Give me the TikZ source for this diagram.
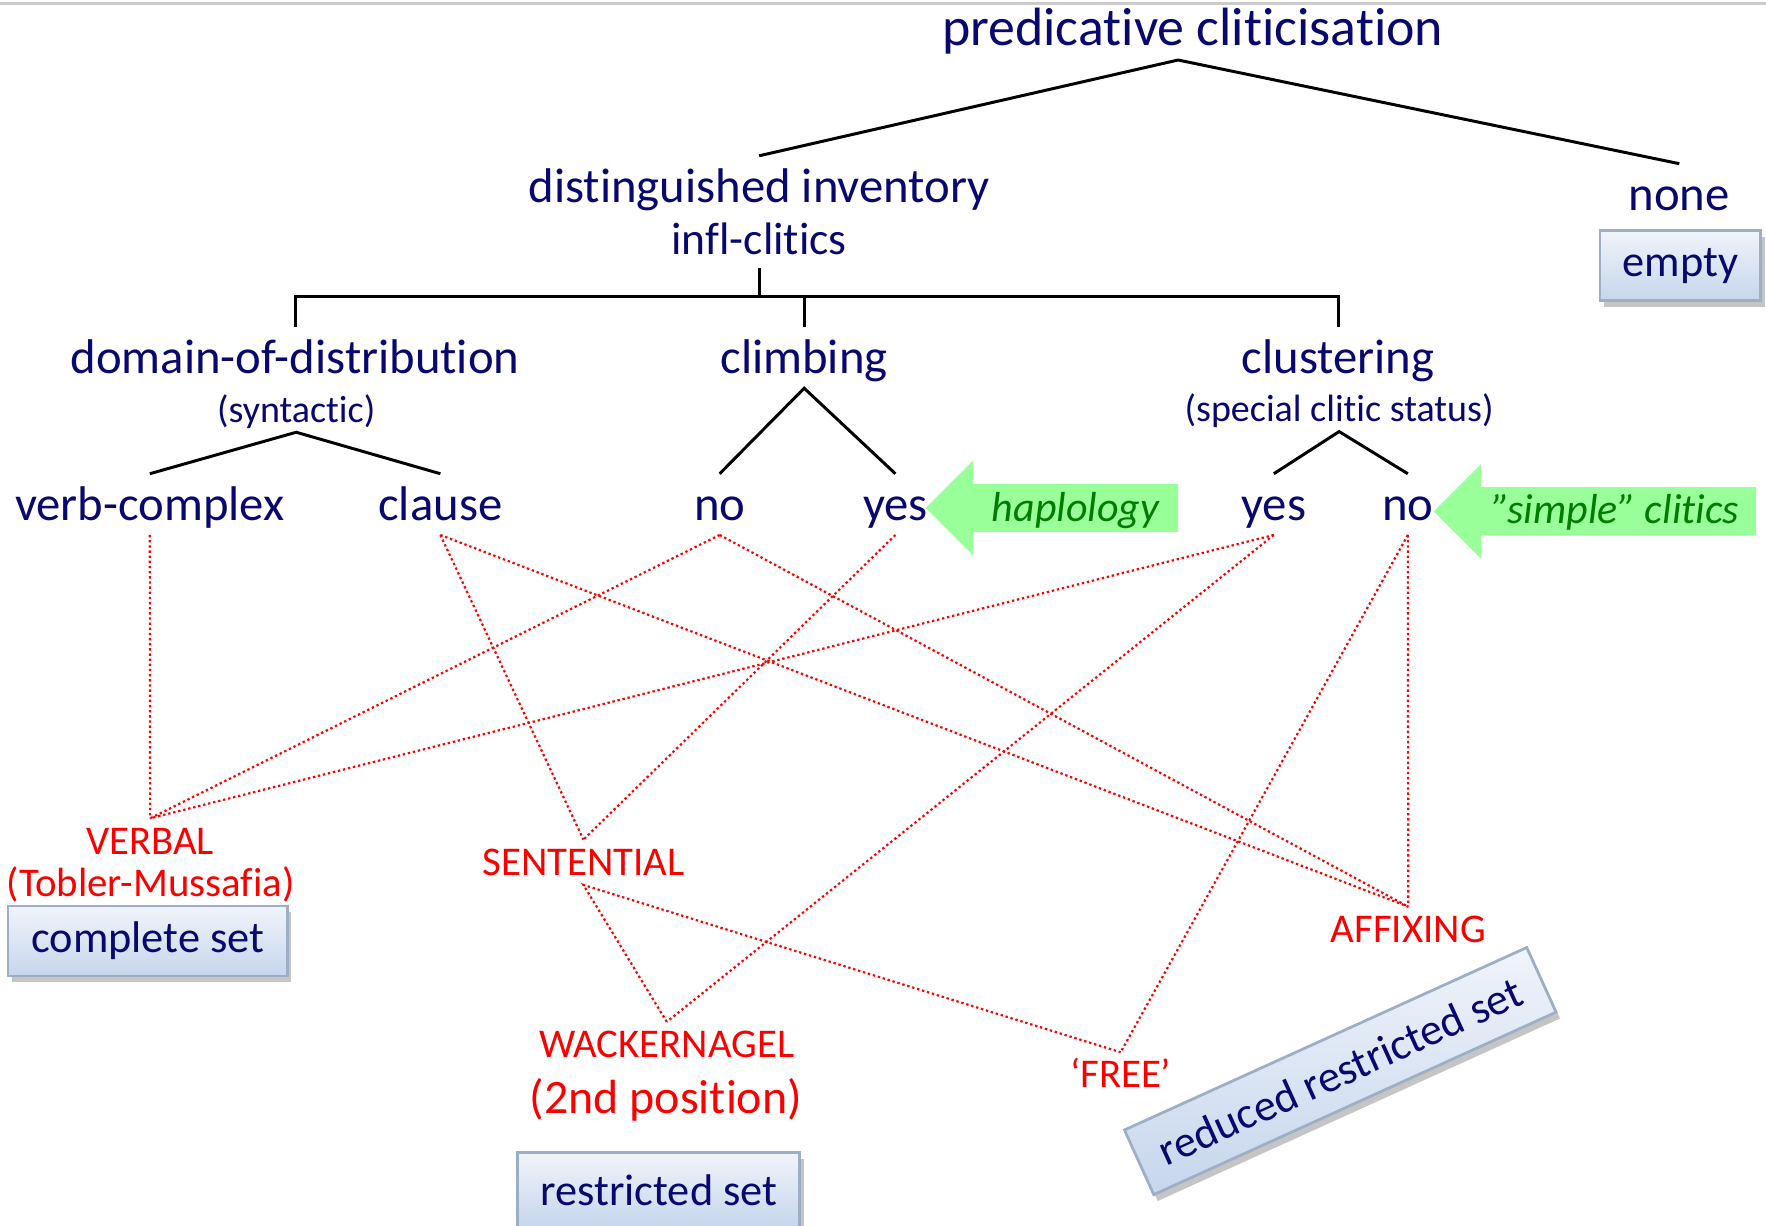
\documentclass[tikz,border=0pt]{standalone}
\usepackage{fontspec}
\setmainfont{Carlito}[Ligatures={TeX,NoCommon}]
\usetikzlibrary{shadows}
\definecolor{navy}{RGB}{8,8,110}
\definecolor{redlab}{RGB}{250,0,0}
\definecolor{hlgreen}{RGB}{153,255,153}
\definecolor{txgreen}{RGB}{0,125,0}
\definecolor{boxtop}{RGB}{240,244,251}
\definecolor{boxbot}{RGB}{198,214,236}
\definecolor{boxline}{RGB}{158,174,196}

\begin{document}
\begin{tikzpicture}[
  x=0.01cm, y=-0.01cm,
  tree/.style={text=navy, font=\fontsize{12.3}{14}\selectfont, anchor=base,
    inner xsep=1pt, inner ysep=0.85pt, text height=10.8pt, text depth=2.56pt},
  sub/.style={text=navy, font=\fontsize{9.6}{11}\selectfont, anchor=base,
    inner xsep=1pt, inner ysep=0.85pt, text height=7pt, text depth=1.45pt},
  place/.style={text=redlab, font=\fontsize{10.3}{12}\selectfont, anchor=base,
    inner ysep=0.82pt, text height=8pt, text depth=1.4pt},
  setbox/.style={draw=boxline, line width=0.7pt, top color=boxtop, bottom color=boxbot,
    text=navy, font=\fontsize{11.2}{13}\selectfont, minimum height=0.62cm, inner xsep=0.2cm,
    drop shadow={shadow xshift=1pt, shadow yshift=-1.6pt, fill=black!45, opacity=0.5}},
  hint/.style={text=txgreen, font=\fontsize{10.6}{12}\selectfont\itshape, anchor=base},
  branch/.style={line width=0.75pt},
  link/.style={redlab, line width=0.55pt, dash pattern=on 0.6pt off 0.7pt}
]
  \useasboundingbox (0,0) rectangle (1568,1088);
  \draw[black!20, line width=0.7pt] (0,3.4) -- (1568,3.4);

  \node[tree, font=\fontsize{13.6}{16}\selectfont] (root) at (1059,40.6) {predicative cliticisation};
  \node[tree] (dist) at (674,180) {distinguished inventory};
  \node[tree, font=\fontsize{11.5}{13}\selectfont, text depth=2.15pt] (infl) at (674,226.4) {infl-clitics};
  \node[tree] (none) at (1491,187) {none};
  \node[setbox, minimum width=1.42cm] (empty) at (1492,236) {empty};

  \node[tree] (domain) at (262,332) {domain-of-distribution};
  \node[tree] (climb) at (714,332) {climbing};
  \node[tree] (clust) at (1188,332) {clustering};
  \node[sub] (synt) at (263,375) {(syntactic)};
  \node[sub] (status) at (1189,374.4) {(special clitic status)};

  \foreach \tip/\yc/\tail in {822/451/1046, 1273/454/1559}
    \fill[hlgreen] (\tip,\yc) -- (\tip+42,\yc-42) -- (\tip+42,\yc-21.4) -- (\tail,\yc-21.4)
      -- (\tail,\yc+21.4) -- (\tip+42,\yc+21.4) -- (\tip+42,\yc+42) -- cycle;
  \node[hint] (haplo) at (955,463.3) {haplology};
  \node[hint] (simple) at (1434.7,464.9) {\symbol{34}simple\symbol{34} clitics};

  \foreach \n/\x/\t in {vc/133/verb-complex, cl/391/clause, no1/639/no, yes1/795/yes, yes2/1131/yes, no2/1250/no}
    \node[tree] (\n) at (\x,462.3) {\t};

  \node[place] (verbal) at (133.3,758.3) {VERBAL};
  \node[place] (tobler) at (133.8,796.2) {(Tobler-Mussafia)};
  \node[place] (sent) at (518,777.2) {SENTENTIAL};
  \node[place] (wack) at (592,939) {WACKERNAGEL};
  \node[place, font=\fontsize{12.1}{14}\selectfont] (second) at (591.3,988.5) {(2nd position)};
  \node[place] (free) at (995,966) {‘FREE’};
  \node[place] (affix) at (1250.4,836.8) {AFFIXING};

  \node[setbox, minimum width=2.48cm] (complete) at (131.2,835.5) {complete set};
  \node[setbox, minimum width=2.42cm, minimum height=0.66cm] (restricted) at (585,1056.4) {restricted set};
  \node[setbox, minimum width=3.92cm, minimum height=0.63cm, rotate=24.4] (reduced) at (1190,951) {reduced restricted set};

  \draw[branch] (dist.north) -- ([xshift=-0.13cm]root.south) -- (none.north);
  \coordinate (bar) at (674,263.5);
  \draw[branch] (infl.south) -- (bar);
  \draw[branch] (domain.north) |- (bar) -| (clust.north);
  \draw[branch] (climb.north) -- (climb.north |- bar);
  \draw[branch] (vc.north) -- (synt.south) -- (cl.north);
  \draw[branch] (no1.north) -- (climb.south) -- (yes1.north);
  \draw[branch] (yes2.north) -- (status.south) -- (no2.north);

  \foreach \a/\b in {vc/verbal, cl/sent, cl/affix, no1/verbal, no1/affix, yes1/sent,
                     yes2/verbal, yes2/wack, no2/free, no2/affix}
    \draw[link] (\a.south) -- (\b.north);
  \draw[link] (wack.north) -- (sent.south) -- (free.north);
\end{tikzpicture}
\end{document}
